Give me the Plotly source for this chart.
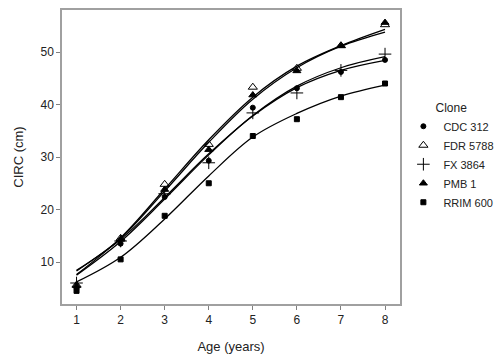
import plotly.graph_objects as go

ages = [1, 2, 3, 4, 5, 6, 7, 8]
clones = ["CDC 312", "FDR 5788", "FX 3864", "PMB 1", "RRIM 600"]

# observed mean circumference (cm)
obs_cdc = [5.0, 13.5, 22.4, 29.3, 39.4, 43.1, 46.2, 48.5]
obs_fdr = [5.6, 14.5, 24.8, 32.4, 43.3, 46.9, 51.2, 55.2]
obs_fx = [6.0, 14.0, 23.0, 28.9, 38.4, 42.2, 46.5, 49.6]
obs_pmb = [5.5, 14.3, 23.8, 31.4, 41.8, 46.4, 51.2, 55.6]
obs_rrim = [4.5, 10.5, 18.8, 25.0, 34.0, 37.2, 41.4, 44.0]

# fitted growth curves
fit_cdc = [8.4, 14.3, 22.3, 30.6, 37.8, 43.2, 46.5, 48.4]
fit_fdr = [7.6, 14.6, 23.9, 33.3, 41.4, 47.3, 51.2, 54.3]
fit_fx = [7.5, 13.9, 22.0, 30.4, 37.9, 43.5, 47.0, 49.1]
fit_pmb = [8.3, 14.5, 23.5, 32.8, 41.0, 47.0, 51.1, 53.8]
fit_rrim = [6.2, 10.9, 18.2, 26.4, 33.8, 38.3, 41.6, 43.7]

observed = [obs_cdc, obs_fdr, obs_fx, obs_pmb, obs_rrim]
fitted = [fit_cdc, fit_fdr, fit_fx, fit_pmb, fit_rrim]
symbols = ["circle", "triangle-up-open", "cross-thin-open", "triangle-up", "square"]
sizes = [5, 8, 9, 7, 5]

FONT = "Liberation Sans Narrow, Arial Narrow, Liberation Sans, Arial, sans-serif"

fig = go.Figure()
for name, fy in zip(clones, fitted):
    fig.add_trace(go.Scatter(x=ages, y=fy, mode="lines", line=dict(color="black", width=1.3, shape="spline"),
                             showlegend=False, hoverinfo="skip"))
for name, oy, sym, sz in zip(clones, observed, symbols, sizes):
    fig.add_trace(go.Scatter(x=ages, y=oy, mode="markers", name=name,
                             marker=dict(symbol=sym, size=sz, color="black",
                                         line=dict(color="black", width=1))))

axis_common = dict(showgrid=False, zeroline=False, showline=True, linecolor="#a0a0a0", linewidth=1.5,
                   mirror=True, ticks="outside", ticklen=4, tickcolor="#808080",
                   tickfont=dict(size=12, color="#222"))
fig.update_layout(
    width=497, height=362,
    margin=dict(l=62, r=97, t=10, b=58, autoexpand=False),
    paper_bgcolor="white", plot_bgcolor="white",
    font=dict(family=FONT, color="#222", size=12),
    xaxis=dict(range=[0.67, 8.34], tickvals=ages, title=dict(text="Age (years)", font=dict(size=13), standoff=16), **axis_common),
    yaxis=dict(range=[2, 58], tickvals=[10, 20, 30, 40, 50], title=dict(text="CIRC (cm)", font=dict(size=13), standoff=14), **axis_common),
    legend=dict(title=dict(text="Clone", font=dict(size=12), side="top center"), x=1.01, y=0.707,
                xanchor="left", yanchor="top",
                font=dict(size=11), itemwidth=30, tracegroupgap=0, bgcolor="rgba(0,0,0,0)"),
)

fig.write_html("out.html", config={"displayModeBar": False},
               post_script="document.body.style.margin='0';")
